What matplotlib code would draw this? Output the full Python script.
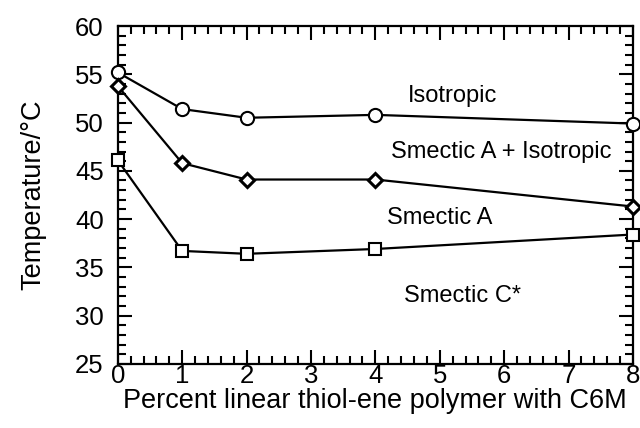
import matplotlib
matplotlib.use("Agg")
import matplotlib.pyplot as plt
from matplotlib.ticker import MultipleLocator

plt.rcParams['font.family'] = ['Liberation Sans', 'DejaVu Sans']

# composition (% linear thiol-ene polymer with C6M)
x_pct = [0, 1, 2, 4, 8]
# transition temperatures
iso_T = [55.2, 51.4, 50.5, 50.8, 49.9]       # circles
smA_T = [53.8, 45.8, 44.1, 44.1, 41.3]       # diamonds
smC_T = [46.1, 36.7, 36.4, 36.9, 38.4]       # squares

phase_labels = ["Isotropic", "Smectic A + Isotropic", "Smectic A", "Smectic C*"]
phase_x = [5.2, 5.96, 5.0, 5.36]
phase_y = [52.8, 47.0, 40.1, 32.0]

fig = plt.figure(figsize=(6.4, 4.28), dpi=100)
ax = fig.add_axes([0.184, 0.150, 0.805, 0.789])

kw = dict(color='black', lw=1.6, mfc='white', mec='black', clip_on=False, zorder=3)
ax.plot(x_pct, iso_T, marker='o', ms=9.5, mew=1.5, **kw)
ax.plot(x_pct, smA_T, marker='D', ms=7, mew=2.2, **kw)
ax.plot(x_pct, smC_T, marker='s', ms=9.0, mew=1.5, **kw)

for lab, px, py in zip(phase_labels, phase_x, phase_y):
    ax.text(px, py, lab, ha='center', va='center', fontsize=17)

ax.set_xlim(0, 8)
ax.set_ylim(25, 60)
ax.xaxis.set_major_locator(MultipleLocator(1))
ax.xaxis.set_minor_locator(MultipleLocator(0.2))
ax.yaxis.set_major_locator(MultipleLocator(5))
ax.yaxis.set_minor_locator(MultipleLocator(1))
ax.tick_params(which='both', direction='in', top=True, right=True, width=1.5,
               labelsize=18.5)
ax.tick_params(axis='x', pad=0.5)
ax.tick_params(axis='y', pad=10)
ax.tick_params(which='major', length=10)
ax.tick_params(which='minor', length=5.5)
for s in ax.spines.values():
    s.set_linewidth(1.6)

ax.set_xlabel("Percent linear thiol-ene polymer with C6M", fontsize=19.5, labelpad=0)
ax.set_ylabel("Temperature/°C", fontsize=19.5, labelpad=21)

fig.savefig("out.png", dpi=100)
